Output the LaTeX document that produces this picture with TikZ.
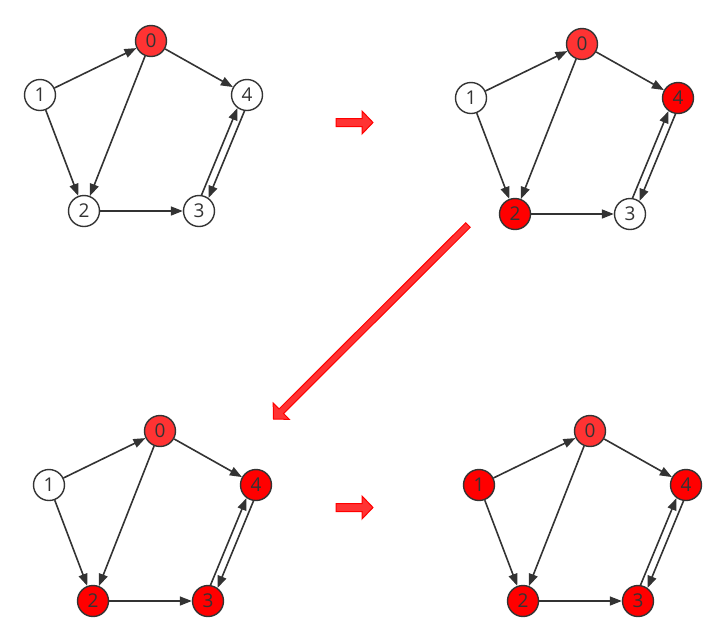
\documentclass[tikz,border=0pt]{standalone}
\usepackage{fontspec}
\setmainfont{Open Sans}
\usetikzlibrary{arrows.meta,calc}
\definecolor{edgegray}{HTML}{333333}
\definecolor{lightred}{HTML}{FF3333}
\tikzset{
  vtx/.style={circle,draw=edgegray,line width=1.4pt,minimum size=31pt,inner sep=0pt,
    text=edgegray,font=\fontsize{19}{19}\selectfont},
  edge/.style={draw=edgegray,line width=1.6pt,-{Triangle[length=12pt,width=9pt]}},
  bigarrow/.style={fill=lightred,draw=red,line width=1pt,line join=miter},
}
\newcommand\mygraph[7]{%
  \node[vtx,fill=#3] (#1v0) at (#2) {0};
  \node[vtx,fill=#4] (#1v1) at ($(#2)+(-111,54)$) {1};
  \node[vtx,fill=#7] (#1v4) at ($(#2)+(96,54)$) {4};
  \node[vtx,fill=#5] (#1v2) at ($(#2)+(-67,170)$) {2};
  \node[vtx,fill=#6] (#1v3) at ($(#2)+(48,170)$) {3};
  \draw[edge] (#1v1) -- (#1v0);
  \draw[edge] (#1v0) -- (#1v4);
  \draw[edge] (#1v0) -- (#1v2);
  \draw[edge] (#1v1) -- (#1v2);
  \draw[edge] (#1v2) -- (#1v3);
  \draw[edge] (#1v3.81) -- (#1v4.234);
  \draw[edge] (#1v4.261) -- (#1v3.54);
}
\begin{document}
\begin{tikzpicture}[x=1pt,y=-1pt]
\useasboundingbox (0,0) rectangle (725,638);
\coordinate (g1) at (151,41);
\coordinate (g2) at (582,44);
\coordinate (g3) at (160,431);
\coordinate (g4) at (590,431);
\mygraph{a}{g1}{lightred}{white}{white}{white}{white}
\mygraph{b}{g2}{lightred}{white}{red}{white}{red}
\mygraph{c}{g3}{lightred}{white}{red}{red}{red}
\mygraph{d}{g4}{lightred}{red}{red}{red}{red}
% horizontal block arrows
\draw[bigarrow] (336,118.5) -- (362,118.5) -- (362,111) -- (373,122.5) -- (362,134) -- (362,126.5) -- (336,126.5) -- cycle;
\draw[bigarrow] (336,503.5) -- (362,503.5) -- (362,496) -- (373,507.5) -- (362,519) -- (362,511.5) -- (336,511.5) -- cycle;
% diagonal arrow
\coordinate (ds) at (468,225);
\coordinate (dt) at (273.5,419);
\coordinate (dh) at ($(dt)!11pt!(ds)$);
\draw[bigarrow]
  ($(ds)!3.2pt!-90:(dt)$) -- ($(dh)!3.2pt!-90:(dt)$) -- ($(dh)!11.5pt!-90:(dt)$)
  -- (dt) -- ($(dh)!11.5pt!90:(dt)$) -- ($(dh)!3.2pt!90:(dt)$)
  -- ($(ds)!3.2pt!90:(dt)$) -- cycle;
\end{tikzpicture}
\end{document}
